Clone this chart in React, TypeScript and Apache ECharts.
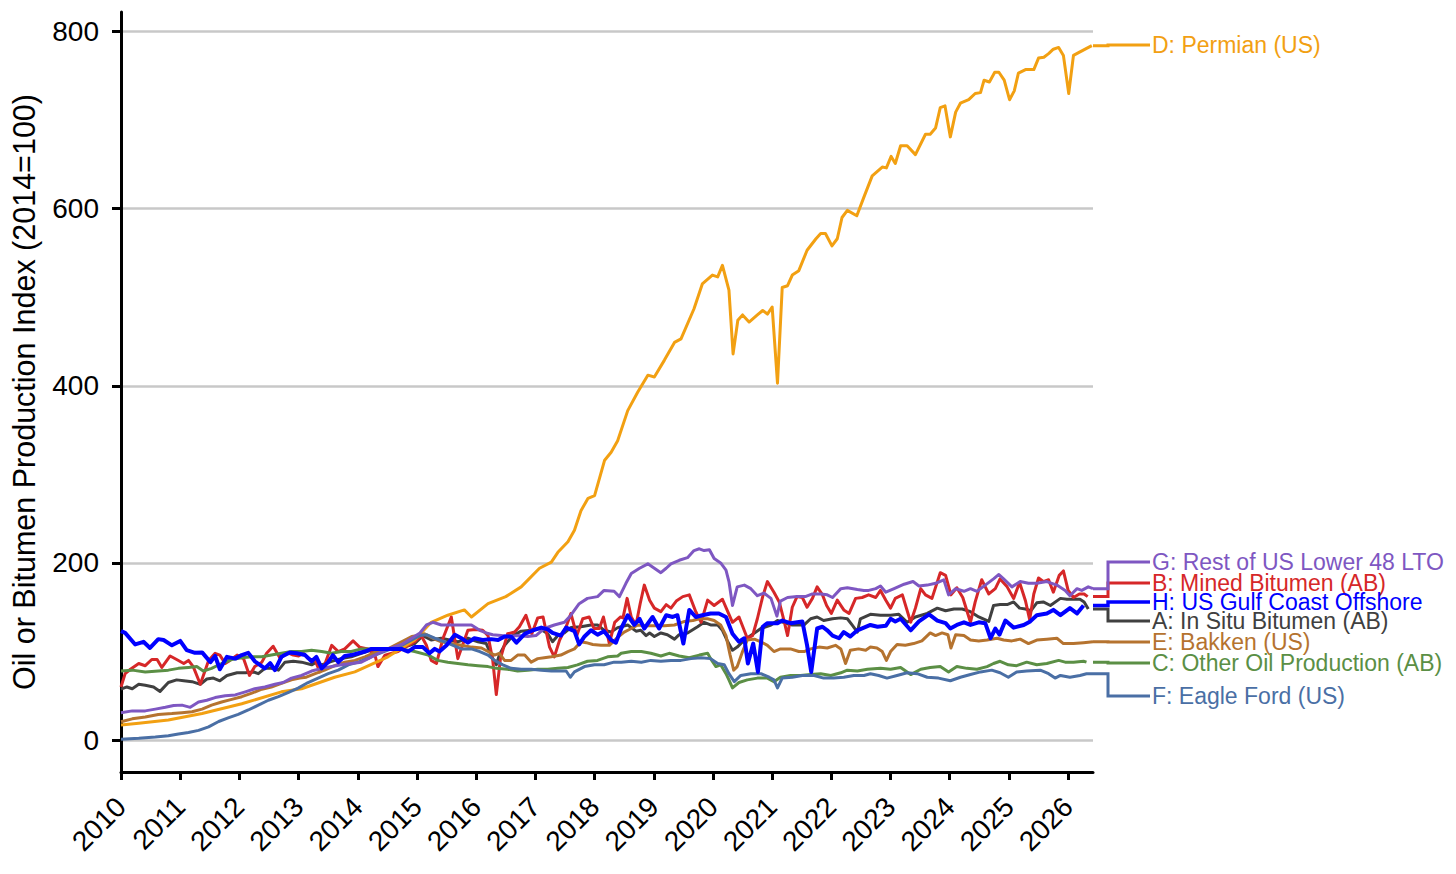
import React, { useEffect, useRef } from 'react';
import * as echarts from 'echarts';

type Pt = [number, number];

const yearTicks = [2010, 2011, 2012, 2013, 2014, 2015, 2016, 2017, 2018, 2019, 2020, 2021, 2022, 2023, 2024, 2025, 2026];
const valueTicks = [0, 200, 400, 600, 800];
const axisTitle = 'Oil or Bitumen Production Index (2014=100)';

const inSituBitumen: Pt[] = [[2010.0,57.5],[2010.1,60],[2010.19,58],[2010.3,63],[2010.41,62],[2010.55,60],[2010.66,55],[2010.8,65],[2010.94,68],[2011.06,67],[2011.2,66],[2011.34,63],[2011.45,69],[2011.56,70],[2011.67,67],[2011.79,73],[2011.96,76],[2012.1,76],[2012.24,77],[2012.32,75],[2012.43,81],[2012.54,81],[2012.66,79],[2012.77,88],[2012.91,89],[2013.05,88],[2013.22,85],[2013.3,88],[2013.39,85],[2013.56,89],[2013.72,92],[2013.89,94],[2014.06,98],[2014.2,101],[2014.5,103],[2014.79,105],[2014.96,109],[2015.1,118],[2015.24,113],[2015.41,115],[2015.55,113],[2015.69,111],[2015.86,115],[2016.03,111],[2016.17,109],[2016.28,92],[2016.34,85],[2016.39,96],[2016.48,107],[2016.62,118],[2016.76,123],[2016.93,124],[2017.07,126],[2017.21,120],[2017.29,111],[2017.38,118],[2017.49,121],[2017.6,127],[2017.77,128],[2017.94,130],[2018.05,130],[2018.16,124],[2018.28,122],[2018.39,127],[2018.56,130],[2018.7,123],[2018.78,124],[2018.87,118],[2018.93,121],[2019.01,117],[2019.12,121],[2019.23,119],[2019.35,114],[2019.43,119],[2019.57,121],[2019.74,128],[2019.85,133],[2019.96,130],[2020.08,130],[2020.16,124],[2020.25,111],[2020.33,101.5],[2020.41,105],[2020.53,113],[2020.64,118],[2020.81,126],[2020.98,130],[2021.09,135],[2021.23,132],[2021.34,130],[2021.45,130],[2021.54,130],[2021.65,137],[2021.76,139],[2021.87,135],[2022.02,137],[2022.16,138],[2022.27,137],[2022.35,130],[2022.44,122],[2022.49,137],[2022.66,142],[2022.83,141],[2023.0,141],[2023.14,142],[2023.28,133],[2023.42,139],[2023.62,143],[2023.79,149],[2023.93,146],[2024.07,148],[2024.21,148],[2024.35,145],[2024.49,139],[2024.66,134],[2024.74,152],[2024.85,153],[2024.97,153],[2025.08,156],[2025.18,149],[2025.28,148],[2025.37,146],[2025.47,155],[2025.58,156],[2025.7,152],[2025.87,160],[2025.98,159],[2026.09,159],[2026.2,159],[2026.27,156],[2026.34,148]];

const minedBitumen: Pt[] = [[2010.0,60],[2010.07,75],[2010.16,80],[2010.3,86.5],[2010.41,84],[2010.52,91],[2010.61,91],[2010.69,82],[2010.83,95],[2010.94,91],[2011.06,86.5],[2011.14,90],[2011.22,83],[2011.34,63],[2011.48,90],[2011.59,98],[2011.67,96],[2011.76,86.5],[2011.84,90],[2011.96,96],[2012.07,92],[2012.17,73],[2012.26,83],[2012.38,88],[2012.46,98],[2012.57,106],[2012.69,92],[2012.8,99],[2012.91,96],[2013.0,95],[2013.08,98],[2013.16,92],[2013.28,90],[2013.36,77],[2013.44,85],[2013.56,107],[2013.67,100],[2013.78,103],[2013.92,112],[2014.03,105],[2014.17,103],[2014.29,96],[2014.34,83],[2014.46,96],[2014.68,100],[2014.85,107],[2014.96,111],[2015.07,118],[2015.16,107],[2015.24,90],[2015.33,86.5],[2015.44,115],[2015.58,139],[2015.69,92],[2015.78,109],[2015.86,124],[2015.99,125],[2016.11,124],[2016.2,118],[2016.28,90],[2016.34,51.5],[2016.41,92],[2016.53,120],[2016.65,122],[2016.73,128],[2016.84,141],[2016.94,120],[2017.04,138],[2017.13,139],[2017.24,105],[2017.32,94],[2017.41,113],[2017.52,128],[2017.6,143],[2017.7,118],[2017.8,137],[2017.91,139],[2017.99,126],[2018.08,126],[2018.15,139],[2018.25,109],[2018.34,133],[2018.44,139],[2018.48,138],[2018.55,160],[2018.62,139],[2018.7,130],[2018.77,154],[2018.84,175],[2018.93,158],[2019.01,149],[2019.12,145],[2019.21,153],[2019.29,149],[2019.38,157],[2019.49,162],[2019.6,164],[2019.71,145],[2019.8,133],[2019.91,158],[2020.02,152],[2020.16,159],[2020.25,145],[2020.33,133],[2020.44,139],[2020.58,115],[2020.67,118],[2020.75,137],[2020.84,162],[2020.92,179],[2021.03,167],[2021.12,156],[2021.2,135],[2021.26,118],[2021.34,150],[2021.42,162],[2021.51,161],[2021.59,150],[2021.68,160],[2021.76,173],[2021.85,164],[2021.92,152],[2022.0,143],[2022.1,158],[2022.21,147],[2022.3,143],[2022.41,160],[2022.52,161],[2022.63,164],[2022.75,161],[2022.83,169],[2022.92,158],[2023.0,149],[2023.08,160],[2023.2,164],[2023.34,133],[2023.42,149],[2023.51,171],[2023.59,164],[2023.7,160],[2023.84,189],[2023.93,186],[2024.02,164],[2024.12,172],[2024.22,161],[2024.35,133],[2024.43,156],[2024.54,181],[2024.66,165],[2024.77,171],[2024.85,182],[2024.97,173],[2025.08,160],[2025.18,178],[2025.28,157],[2025.35,136],[2025.42,165],[2025.5,183],[2025.58,179],[2025.67,181],[2025.75,167],[2025.85,186],[2025.92,191],[2026.0,169],[2026.09,161],[2026.19,165],[2026.27,165],[2026.33,162]];

const otherOilAB: Pt[] = [[2010.0,78],[2010.19,79],[2010.41,77],[2010.63,78],[2010.8,79],[2010.97,81],[2011.14,82],[2011.28,83],[2011.39,78],[2011.53,81],[2011.7,86.5],[2011.87,91],[2012.04,93],[2012.21,94],[2012.38,94],[2012.54,96],[2012.71,98],[2012.88,100],[2013.05,100],[2013.22,101.5],[2013.39,100],[2013.56,98],[2013.72,100],[2013.89,100],[2014.06,103],[2014.29,103],[2014.51,103],[2014.74,103],[2014.96,100],[2015.19,96],[2015.35,90],[2015.52,88],[2015.69,86.5],[2015.86,85],[2016.03,84],[2016.2,83],[2016.34,81],[2016.53,80],[2016.7,78],[2016.87,79],[2017.04,80],[2017.21,80],[2017.38,81],[2017.55,82],[2017.71,85],[2017.88,89],[2018.05,90],[2018.22,94],[2018.39,95],[2018.45,98],[2018.62,100],[2018.79,100],[2018.95,98],[2019.12,95],[2019.26,98],[2019.43,95],[2019.6,93],[2019.77,96],[2019.91,98],[2019.96,92],[2020.05,83],[2020.13,85],[2020.22,75],[2020.27,68],[2020.33,59],[2020.44,65],[2020.58,68],[2020.75,70],[2020.92,70],[2021.03,66],[2021.14,71],[2021.31,73],[2021.48,73],[2021.65,74],[2021.82,75],[2021.99,73],[2022.16,76],[2022.27,79],[2022.44,78],[2022.61,80],[2022.83,81],[2023.0,80],[2023.17,82],[2023.34,74],[2023.51,80],[2023.67,82],[2023.84,83],[2023.98,77],[2024.12,83],[2024.29,81],[2024.46,80],[2024.63,83],[2024.74,86.5],[2024.85,89],[2024.99,85],[2025.13,84],[2025.3,88],[2025.47,85],[2025.64,86.5],[2025.84,90],[2025.95,88],[2026.09,88],[2026.26,89],[2026.31,88]];

const permian: Pt[] = [[2010.0,17],[2010.3,19],[2010.8,22.6],[2011.37,30],[2012.04,41],[2012.71,54.5],[2013.05,58],[2013.61,71],[2013.95,77],[2014.51,94],[2014.96,113],[2015.24,133],[2015.52,141],[2015.8,147],[2015.92,139],[2016.2,154],[2016.5,162],[2016.76,173],[2017.07,194],[2017.27,201],[2017.38,212],[2017.55,224],[2017.66,237],[2017.77,259],[2017.89,273],[2018.0,276],[2018.17,316],[2018.28,325],[2018.39,338],[2018.56,372],[2018.73,393],[2018.9,412],[2019.01,410],[2019.18,429],[2019.35,449],[2019.46,453],[2019.68,487],[2019.82,515],[2019.99,525],[2020.08,523],[2020.16,536],[2020.27,508],[2020.34,436],[2020.42,474],[2020.5,480],[2020.61,472],[2020.75,480],[2020.84,485],[2020.92,481],[2021.0,489],[2021.09,403],[2021.17,511],[2021.26,513],[2021.34,525],[2021.45,530],[2021.59,553],[2021.74,566],[2021.82,572],[2021.9,572],[2022.01,558],[2022.1,566],[2022.18,590],[2022.27,598],[2022.43,592],[2022.55,613],[2022.69,637],[2022.86,647],[2022.93,646],[2023.01,659],[2023.08,651],[2023.17,671],[2023.28,671],[2023.42,661],[2023.59,684],[2023.67,684],[2023.76,691],[2023.84,714],[2023.92,716],[2024.01,681],[2024.1,709],[2024.18,719],[2024.32,723],[2024.43,730],[2024.52,731],[2024.58,745],[2024.67,743],[2024.76,754],[2024.83,754],[2024.92,745],[2025.01,723],[2025.09,733],[2025.16,753],[2025.28,757],[2025.42,757],[2025.5,770],[2025.59,771],[2025.67,775],[2025.75,780],[2025.84,782],[2025.92,773],[2026.01,730],[2026.09,773],[2026.2,777],[2026.4,784]];

const bakken: Pt[] = [[2010.0,20.7],[2010.19,24],[2010.41,26],[2010.63,29],[2010.86,30],[2011.03,31],[2011.2,32],[2011.37,35],[2011.53,39.5],[2011.7,43],[2011.87,46],[2012.04,49],[2012.21,53],[2012.38,57.5],[2012.54,60],[2012.71,64],[2012.88,68],[2013.02,70],[2013.13,71],[2013.28,75],[2013.44,79],[2013.61,84],[2013.78,88],[2013.95,90],[2014.12,94],[2014.29,99],[2014.51,103],[2014.74,111],[2014.91,117],[2015.02,118],[2015.13,120],[2015.27,115],[2015.41,111],[2015.58,109],[2015.75,107],[2015.92,105],[2016.09,104],[2016.2,100],[2016.31,96],[2016.39,98],[2016.48,90],[2016.59,90],[2016.7,96],[2016.82,96],[2016.93,88],[2017.04,92],[2017.15,93],[2017.27,94],[2017.43,96],[2017.55,100],[2017.66,103],[2017.77,111],[2017.86,110],[2017.97,108],[2018.11,107],[2018.25,107],[2018.39,116],[2018.5,122],[2018.62,126],[2018.73,130],[2018.84,129],[2019.01,129],[2019.18,129],[2019.35,130],[2019.52,134],[2019.66,135],[2019.77,137],[2019.91,137],[2020.02,135],[2020.13,130],[2020.22,118],[2020.29,96],[2020.35,79],[2020.41,83],[2020.5,100],[2020.58,113],[2020.7,114],[2020.81,111],[2020.92,107],[2021.03,100],[2021.14,103],[2021.31,103],[2021.45,100],[2021.54,100],[2021.65,103],[2021.79,105],[2021.93,104],[2022.07,107],[2022.16,103],[2022.24,86.5],[2022.32,101.5],[2022.46,103],[2022.58,101.5],[2022.66,105],[2022.77,104],[2022.86,100],[2022.93,90],[2023.0,100],[2023.11,108],[2023.25,107],[2023.39,109],[2023.53,112],[2023.67,121],[2023.76,118],[2023.87,121],[2023.97,119],[2024.02,104],[2024.1,119],[2024.24,118],[2024.35,113],[2024.49,112],[2024.63,113],[2024.8,115],[2024.91,113],[2025.05,112],[2025.19,114],[2025.33,109],[2025.47,113],[2025.64,114],[2025.81,115],[2025.92,109],[2026.09,109],[2026.26,110],[2026.42,111]];

const eagleFord: Pt[] = [[2010.0,1],[2010.3,2],[2010.58,3.4],[2010.8,5],[2010.97,7],[2011.14,8.6],[2011.31,11],[2011.48,15],[2011.65,21],[2011.81,25],[2011.98,29],[2012.15,34],[2012.32,39.5],[2012.49,45],[2012.66,49],[2012.83,54],[2013.0,59],[2013.16,65],[2013.33,70],[2013.5,75],[2013.67,79],[2013.84,85],[2014.01,88],[2014.2,93],[2014.29,96],[2014.51,101.5],[2014.74,107],[2014.91,113],[2015.05,118],[2015.16,119],[2015.3,115],[2015.47,111],[2015.61,107],[2015.75,103],[2015.92,103],[2016.06,100],[2016.2,96],[2016.31,90],[2016.45,85],[2016.59,81],[2016.76,80],[2016.93,80],[2017.1,79],[2017.27,78],[2017.43,78],[2017.52,78],[2017.59,71],[2017.66,77],[2017.83,83],[2018.0,85],[2018.16,85],[2018.33,88],[2018.45,88],[2018.62,89],[2018.79,88],[2018.95,90],[2019.12,89],[2019.29,90],[2019.46,90],[2019.63,92],[2019.8,93],[2019.96,92],[2020.08,86.5],[2020.19,85],[2020.27,75],[2020.36,66],[2020.47,73],[2020.64,75],[2020.81,75],[2020.95,71],[2021.03,68],[2021.09,59],[2021.17,70],[2021.34,71],[2021.51,73],[2021.71,73],[2021.87,70],[2022.04,70],[2022.21,71],[2022.38,73],[2022.55,73],[2022.66,75],[2022.8,73],[2022.94,70],[2023.11,73],[2023.28,76],[2023.45,75],[2023.62,71],[2023.81,70],[2024.01,67],[2024.18,71],[2024.35,74],[2024.52,77],[2024.71,79],[2024.85,76],[2024.99,71],[2025.13,77],[2025.3,78],[2025.53,79],[2025.67,75],[2025.78,70],[2025.87,73],[2026.03,71],[2026.2,73],[2026.31,75],[2026.42,75]];

const restOfLower48: Pt[] = [[2010.0,31],[2010.19,33],[2010.41,33],[2010.58,35],[2010.75,37],[2010.89,39],[2011.03,39.5],[2011.17,37],[2011.31,43],[2011.45,45],[2011.59,48],[2011.76,50],[2011.93,51],[2012.1,54.5],[2012.26,58],[2012.43,60],[2012.6,63],[2012.74,65],[2012.88,70],[2013.05,73],[2013.22,78],[2013.39,81],[2013.56,83],[2013.72,85],[2013.89,86.5],[2014.06,88],[2014.29,96],[2014.51,103],[2014.74,108],[2014.91,115],[2015.05,121],[2015.16,130],[2015.27,133],[2015.41,130],[2015.58,130],[2015.75,130],[2015.92,130],[2016.06,124],[2016.17,121],[2016.28,119],[2016.42,118],[2016.56,117],[2016.7,118],[2016.87,117],[2017.01,118],[2017.15,126],[2017.32,130],[2017.49,133],[2017.6,141],[2017.74,154],[2017.88,160],[2018.05,162],[2018.16,169],[2018.33,168],[2018.42,162],[2018.53,177],[2018.62,188],[2018.76,194],[2018.9,199],[2019.01,194],[2019.12,189],[2019.21,194],[2019.29,199],[2019.43,203],[2019.57,206],[2019.68,214],[2019.77,216],[2019.85,214],[2019.94,215],[2020.02,205],[2020.13,200],[2020.22,192],[2020.27,179],[2020.33,152],[2020.41,173],[2020.53,175],[2020.64,171],[2020.75,163],[2020.86,166],[2020.98,160],[2021.08,140],[2021.14,157],[2021.26,161],[2021.42,162],[2021.56,162],[2021.68,165],[2021.82,165],[2021.93,164],[2022.02,161],[2022.16,171],[2022.27,172],[2022.44,170],[2022.55,169],[2022.63,169],[2022.75,171],[2022.83,174],[2022.92,167],[2023.06,171],[2023.23,176],[2023.38,179],[2023.48,174],[2023.62,175],[2023.76,177],[2023.9,181],[2023.98,164],[2024.1,171],[2024.24,168],[2024.35,171],[2024.46,168],[2024.6,175],[2024.74,182],[2024.83,187],[2024.91,182],[2025.05,173],[2025.19,179],[2025.33,177],[2025.47,177],[2025.64,179],[2025.81,175],[2025.95,169],[2026.03,163],[2026.15,171],[2026.23,169],[2026.34,173],[2026.42,171]];

const gulfOffshore: Pt[] = [[2010.0,123],[2010.07,121],[2010.24,108],[2010.38,111],[2010.49,104],[2010.63,114],[2010.72,113],[2010.86,107],[2011.0,112],[2011.11,101.5],[2011.25,98.5],[2011.37,99],[2011.51,88],[2011.59,95],[2011.67,80],[2011.79,94],[2011.93,92],[2012.04,96],[2012.15,98.5],[2012.26,89],[2012.43,81],[2012.52,87],[2012.6,79],[2012.71,94],[2012.85,99],[2012.97,98],[2013.11,96],[2013.22,89],[2013.3,94],[2013.39,81],[2013.5,88],[2013.58,96],[2013.67,88],[2013.78,95],[2013.89,96],[2014.01,98],[2014.12,100],[2014.23,103],[2014.4,103],[2014.63,103],[2014.74,103],[2014.85,100],[2014.96,105],[2015.1,105],[2015.21,98],[2015.3,103],[2015.38,100],[2015.5,107],[2015.64,119],[2015.75,115],[2015.86,110],[2015.97,115],[2016.11,113],[2016.25,114],[2016.37,113],[2016.48,117],[2016.59,117],[2016.68,110],[2016.82,120],[2016.96,124],[2017.1,127],[2017.21,125],[2017.29,121],[2017.43,118],[2017.52,127],[2017.66,123],[2017.74,108],[2017.83,117],[2017.94,124],[2018.05,119],[2018.16,123],[2018.28,113],[2018.36,110],[2018.45,126],[2018.56,141],[2018.67,130],[2018.76,137],[2018.84,126],[2018.98,139],[2019.09,126],[2019.21,141],[2019.32,139],[2019.4,141],[2019.5,109],[2019.6,147],[2019.71,139],[2019.82,141],[2019.96,143],[2020.1,143],[2020.22,139],[2020.33,120],[2020.44,111],[2020.53,115],[2020.59,86.5],[2020.68,109],[2020.76,77],[2020.84,128],[2020.92,132],[2021.09,132],[2021.17,135],[2021.31,132],[2021.51,134],[2021.59,107],[2021.66,77],[2021.76,126],[2021.85,128],[2021.93,124],[2022.02,118],[2022.13,115],[2022.21,122],[2022.32,117],[2022.44,124],[2022.55,127],[2022.66,130],[2022.78,128],[2022.92,129],[2023.0,137],[2023.08,134],[2023.17,137],[2023.34,124],[2023.48,134],[2023.65,142],[2023.79,135],[2023.93,132],[2024.01,126],[2024.12,130],[2024.24,133],[2024.35,130],[2024.49,133],[2024.6,132],[2024.69,115],[2024.77,126],[2024.84,119],[2024.94,135],[2025.08,127],[2025.25,130],[2025.36,134],[2025.47,141],[2025.64,143],[2025.75,147],[2025.87,141],[2026.03,149],[2026.15,143],[2026.26,152]];

const seriesLabels = ['A: In Situ Bitumen (AB)', 'B: Mined Bitumen (AB)', 'C: Other Oil Production (AB)', 'D: Permian (US)', 'E: Bakken (US)', 'F: Eagle Ford (US)', 'G: Rest of US Lower 48 LTO', 'H: US Gulf Coast Offshore'];
const seriesData = [inSituBitumen, minedBitumen, otherOilAB, permian, bakken, eagleFord, restOfLower48, gulfOffshore];

// styling / layout (not data)
const seriesColors = ['#404040', '#D62728', '#5B8F45', '#F2A012', '#B5732F', '#4A6FA5', '#7E57C2', '#0000FF'];
const seriesWidths = [3, 3, 3, 3, 3, 3, 3, 4];
const labelPixelY = [621, 583, 663, 45, 642, 696, 562, 602];

const FONT = '"Liberation Sans", Arial, Helvetica, sans-serif';
const X_MIN = 2010;
const X_MAX = 2026.42;

export default function App() {
  const ref = useRef<HTMLDivElement>(null);

  useEffect(() => {
    if (!ref.current) return;
    const chart = echarts.init(ref.current, undefined, { renderer: 'svg' });

    const series: any[] = seriesData.map((d, i) => ({
      type: 'line',
      name: seriesLabels[i],
      data: d,
      showSymbol: false,
      symbol: 'none',
      clip: true,
      lineStyle: { color: seriesColors[i], width: seriesWidths[i], join: 'round' },
      itemStyle: { color: seriesColors[i] },
      emphasis: { disabled: true },
      z: 3 + i,
    }));

    chart.setOption({
      animation: false,
      backgroundColor: '#ffffff',
      textStyle: { fontFamily: FONT },
      grid: { left: 119, right: 363, top: 12, bottom: 102, containLabel: false },
      xAxis: {
        type: 'value',
        min: X_MIN,
        max: X_MAX,
        interval: 1,
        axisLine: { show: true, onZero: false, lineStyle: { color: '#000', width: 3 } },
        axisTick: { show: true, length: 8, lineStyle: { color: '#000', width: 3 }, customValues: yearTicks },
        axisLabel: {
          customValues: yearTicks,
          rotate: 45,
          margin: 30,
          fontSize: 28,
          color: '#000',
          fontFamily: FONT,
          formatter: (v: number) => String(Math.round(v)),
        },
        splitLine: { show: false },
      },
      yAxis: {
        type: 'value',
        min: -36,
        max: 822,
        name: axisTitle,
        nameLocation: 'middle',
        nameGap: 82,
        nameTextStyle: { fontSize: 30.5, color: '#000', fontFamily: FONT },
        axisLine: { show: true, onZero: false, lineStyle: { color: '#000', width: 3 } },
        axisTick: { show: true, length: 9, lineStyle: { color: '#000', width: 3 }, customValues: valueTicks },
        axisLabel: { customValues: valueTicks, margin: 22, fontSize: 28, color: '#000', fontFamily: FONT },
        splitLine: { show: true, lineStyle: { color: '#c8c8c8', width: 2.5 } },
      },
      series,
    });

    const rightEdge = chart.convertToPixel({ xAxisIndex: 0, yAxisIndex: 0 }, [X_MAX, 0])[0];
    const elbowX = rightEdge + 15;
    const endX = rightEdge + 57;
    const graphics: any[] = [];
    seriesData.forEach((d, i) => {
      const last = d[d.length - 1];
      const py = chart.convertToPixel({ xAxisIndex: 0, yAxisIndex: 0 }, [X_MAX, last[1]])[1];
      const ly = labelPixelY[i];
      graphics.push({
        type: 'polyline',
        silent: true,
        z: 10,
        shape: { points: [[rightEdge, py], [elbowX, py], [elbowX, ly], [endX, ly]] },
        style: { stroke: seriesColors[i], lineWidth: seriesWidths[i] > 3 ? 3.4 : 3, fill: null },
      });
      graphics.push({
        type: 'text',
        silent: true,
        z: 10,
        x: endX + 2,
        y: ly,
        style: {
          text: seriesLabels[i],
          fill: seriesColors[i],
          fontSize: 23,
          fontFamily: FONT,
          align: 'left',
          verticalAlign: 'middle',
        },
      });
    });
    chart.setOption({ graphic: graphics });

    return () => {
      chart.dispose();
    };
  }, []);

  return (
    <div
      ref={ref}
      style={{ position: 'fixed', left: 0, top: 0, width: 1456, height: 874, background: '#fff' }}
    />
  );
}
